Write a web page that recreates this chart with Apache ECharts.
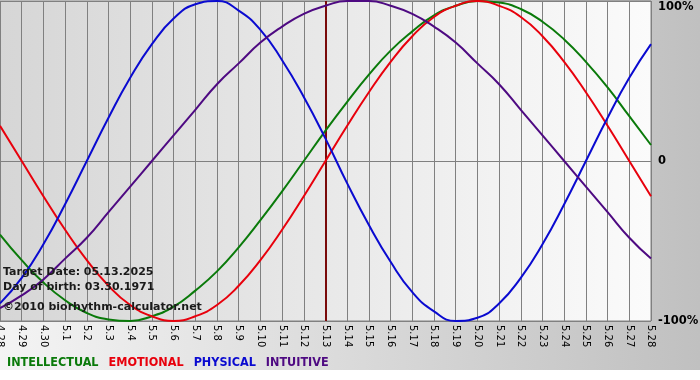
<!DOCTYPE html>
<html lang="en">
<head>
<meta charset="utf-8">
<title>Biorhythm</title>
</head>
<body style="margin: 0; background: #ffffff">
<div id="container" style="width: 700px; height: 370px; background: linear-gradient(to right, #f4f4f4, #c0c0c0)"></div>

<script type="text/javascript" src="https://cdn.jsdelivr.net/npm/echarts/dist/echarts.min.js"></script>

<script type="text/javascript">

var dom = document.getElementById('container');
var myChart = echarts.init(dom, null, { renderer: 'canvas' });

// Days shown on the x axis
var days = ['4.28', '4.29', '4.30', '5.1', '5.2', '5.3', '5.4', '5.5', '5.6', '5.7',
    '5.8', '5.9', '5.10', '5.11', '5.12', '5.13', '5.14', '5.15', '5.16', '5.17',
    '5.18', '5.19', '5.20', '5.21', '5.22', '5.23', '5.24', '5.25', '5.26', '5.27', '5.28'];

var targetDay = '5.13';

// Cycle values in percent
var intellectual = [-46, -62, -76, -87, -95, -99, -100, -97, -91, -81, -69, -54, -37, -19, 0,
    19, 37, 54, 69, 81, 91, 97, 100, 99, 95, 87, 76, 62, 46, 28, 10];
var emotional = [22, 0, -22, -43, -62, -78, -90, -97, -100, -97, -90, -78, -62, -43, -22,
    0, 22, 43, 62, 78, 90, 97, 100, 97, 90, 78, 62, 43, 22, 0, -22];
var physical = [-89, -73, -52, -27, 0, 27, 52, 73, 89, 98, 100, 94, 82, 63, 40,
    14, -14, -40, -63, -82, -94, -100, -98, -89, -73, -52, -27, 0, 27, 52, 73];
var intuitive = [-92, -84, -74, -61, -48, -32, -16, 0, 16, 32, 48, 61, 74, 84, 92,
    97, 100, 100, 97, 92, 84, 74, 61, 48, 32, 16, 0, -16, -32, -48, -61];

var yTicks = { '100': '100%', '0': '0', '-100': '-100%' };

var infoLines = ['Target Date: 05.13.2025', 'Day of birth: 03.30.1971', '\u00a92010 biorhythm-calculator.net'];

function cycle(name, data, color) {
    return {
        name: name,
        type: 'line',
        data: data,
        smooth: true,
        symbol: 'none',
        lineStyle: { color: color, width: 2 },
        itemStyle: { color: color },
        z: 3
    };
}

var series = [
    cycle('INTELLECTUAL', intellectual, '#0a7a0a'),
    cycle('EMOTIONAL', emotional, '#e8000c'),
    cycle('PHYSICAL', physical, '#0a0ad0'),
    cycle('INTUITIVE', intuitive, '#4e0a82')
];

// vertical marker on the target date
series[0].markLine = {
    silent: true,
    symbol: 'none',
    label: { show: false },
    lineStyle: { color: '#7a0a0a', width: 2, type: 'solid' },
    data: [{ xAxis: targetDay }],
    z: 2
};

var option = {
    animation: false,
    backgroundColor: 'transparent',
    textStyle: { fontFamily: 'DejaVu Sans' },
    grid: {
        left: 0,
        right: 49,
        top: 1,
        bottom: 49,
        outerBoundsMode: 'none',
        containLabel: false,
        show: true,
        borderColor: '#808080',
        borderWidth: 1,
        backgroundColor: new echarts.graphic.LinearGradient(0, 0, 1, 0, [
            { offset: 0, color: '#d6d6d6' },
            { offset: 1, color: '#fbfbfb' }
        ])
    },
    legend: {
        left: 2,
        bottom: 1,
        padding: 0,
        icon: 'none',
        itemWidth: 0,
        itemHeight: 0,
        itemGap: 5,
        selectedMode: false,
        textStyle: { fontFamily: 'DejaVu Sans Condensed', fontWeight: 'bold', fontSize: 12.5, padding: [0, 0, 0, 0] },
        data: [
            { name: 'INTELLECTUAL', textStyle: { color: '#0a7a0a' } },
            { name: 'EMOTIONAL', textStyle: { color: '#e8000c' } },
            { name: 'PHYSICAL', textStyle: { color: '#0a0ad0' } },
            { name: 'INTUITIVE', textStyle: { color: '#4e0a82' } }
        ]
    },
    xAxis: {
        type: 'category',
        data: days,
        boundaryGap: false,
        axisLine: { show: false },
        axisTick: { show: true, length: 3, lineStyle: { color: '#808080' } },
        axisLabel: {
            interval: 0,
            rotate: -90,
            margin: 4,
            fontSize: 10,
            color: '#000',
            fontFamily: 'DejaVu Sans',
            hideOverlap: false
        },
        splitLine: { show: true, interval: 0, lineStyle: { color: '#808080', width: 1 } }
    },
    yAxis: {
        type: 'value',
        position: 'right',
        min: -100,
        max: 100,
        interval: 100,
        axisLine: { show: false },
        axisTick: { show: false },
        axisLabel: {
            margin: 7,
            fontSize: 11.5,
            fontWeight: 'bold',
            color: '#000',
            formatter: function (v) {
                var t = yTicks[String(v)];
                return v === 100 ? '{top|' + t + '}' : t;
            },
            rich: {
                top: { fontSize: 11.5, fontWeight: 'bold', color: '#000', padding: [12, 0, 0, 0] }
            }
        },
        splitLine: { show: true, lineStyle: { color: '#808080', width: 1 } }
    },
    graphic: infoLines.map(function (line, i) {
        return {
            type: 'text',
            left: 3,
            top: 267 + i * 15 + (i === 2 ? 5 : 0),
            z: 10,
            style: {
                text: line,
                fill: '#1a1a1a',
                font: 'bold 11px "DejaVu Sans"'
            }
        };
    }),
    series: series
};

myChart.setOption(option);

window.addEventListener('resize', myChart.resize);
</script>
</body>
</html>
